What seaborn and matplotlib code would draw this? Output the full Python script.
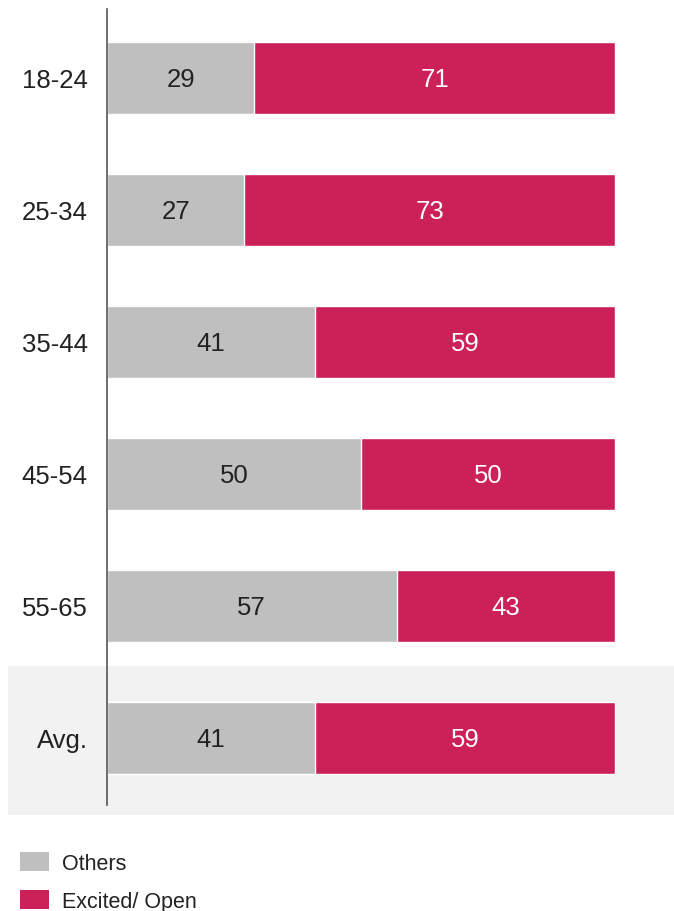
import matplotlib
matplotlib.use("Agg")
import matplotlib.pyplot as plt
import seaborn as sns
import pandas as pd
from matplotlib.patches import Rectangle, Patch

categories = ["18-24", "25-34", "35-44", "45-54", "55-65", "Avg."]
others = [29, 27, 41, 50, 57, 41]
excited = [71, 73, 59, 50, 43, 59]
series_names = ["Others", "Excited/ Open"]

GRAY = "#BFBFBF"
RED = "#CB2158"

sns.set_theme(style="white")
plt.rcParams["font.family"] = ["Liberation Sans", "DejaVu Sans"]

df = pd.DataFrame({"cat": categories, "others": others, "excited": excited})
df["total"] = df["others"] + df["excited"]

W, H = 674, 912
fig = plt.figure(figsize=(W / 100, H / 100), dpi=100)
ax = fig.add_axes([107 / W, (H - 806) / H, 1 - 107 / W, (806 - 10) / H])
ax.patch.set_alpha(0)

# background box for the average row
ax.add_patch(Rectangle((8 / W, (H - 816) / H), (W - 8) / W, (816 - 667) / H,
                       transform=fig.transFigure, facecolor="#F2F2F2",
                       edgecolor="none", zorder=0, clip_on=False))

sns.barplot(data=df, y="cat", x="total", orient="h", color=RED, width=0.545,
            edgecolor="white", linewidth=1, saturation=1, ax=ax, zorder=2)
sns.barplot(data=df, y="cat", x="others", orient="h", color=GRAY, width=0.545,
            edgecolor="white", linewidth=1, saturation=1, ax=ax, zorder=3)

for i, (o, e) in enumerate(zip(others, excited)):
    ax.text(o / 2, i + 0.01, f"{o}", ha="center", va="center", fontsize=18.5,
            color="#222222", zorder=5)
    ax.text(o + e / 2, i + 0.01, f"{e}", ha="center", va="center", fontsize=18.5,
            color="white", zorder=5)

ax.set_xlim(0, (W - 108) / 5.07)
ax.set_ylim(5.51, -0.52)
ax.set_xlabel("")
ax.set_ylabel("")
ax.set_xticks([])
ax.tick_params(axis="y", length=0, pad=14, labelsize=18.5, labelcolor="#222222")
for s in ["top", "right", "bottom"]:
    ax.spines[s].set_visible(False)
ax.spines["left"].set_color("#555555")
ax.spines["left"].set_linewidth(1.2)
ax.spines["left"].set_zorder(6)

handles = [Patch(facecolor=GRAY, edgecolor="none"), Patch(facecolor=RED, edgecolor="none")]
fig.legend(handles, series_names, loc="lower left", bbox_to_anchor=(21 / W - 0.002, -0.001),
           frameon=False, fontsize=15.5, handlelength=1.35, handleheight=0.98,
           handletextpad=0.62, labelspacing=0.75, borderpad=0.0, borderaxespad=0.0,
           labelcolor="#222222")

fig.savefig("out.png", dpi=100)
